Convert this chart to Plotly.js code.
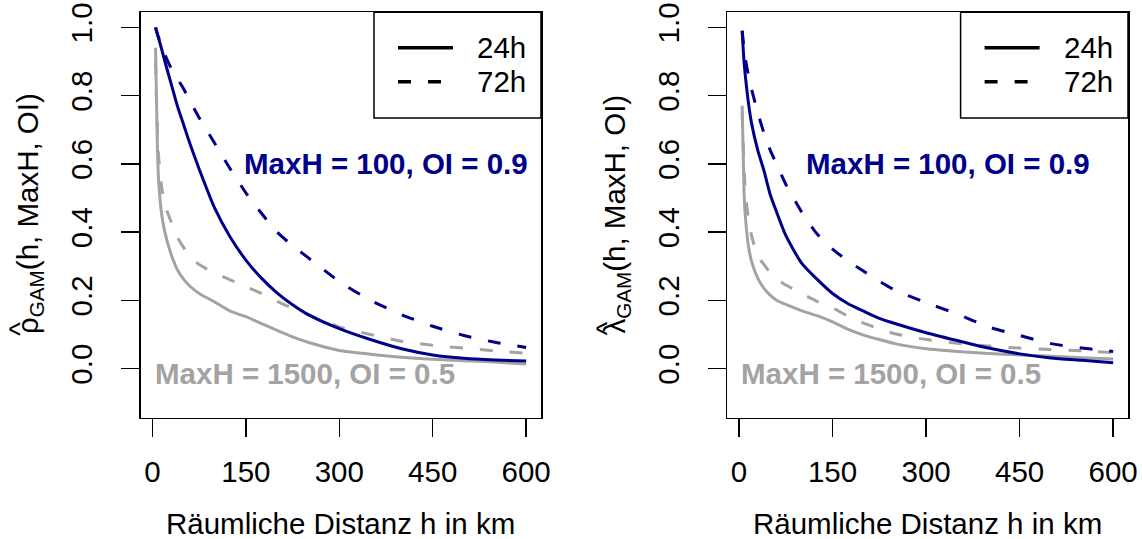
<!DOCTYPE html>
<html>
<head>
<meta charset="utf-8">
<script src="https://cdn.plot.ly/plotly-3.0.1.min.js"></script>
<style>html,body{margin:0;padding:0;background:#fff;}#chart{width:1142px;height:539px;}</style>
</head>
<body>
<div id="chart"></div>
<script>
// ---- data ----
const distanceKm = [5, 8, 10, 15, 20, 30, 40, 50, 60, 75, 100, 125, 150, 175, 200, 225, 250, 300, 350, 400, 450, 500, 550, 600];

// left panel: rho_GAM
const rhoMaxH100_24h = [1.0, 0.98, 0.967, 0.935, 0.90, 0.835, 0.77, 0.715, 0.66, 0.585, 0.47, 0.385, 0.318, 0.265, 0.222, 0.187, 0.158, 0.117, 0.085, 0.058, 0.040, 0.030, 0.025, 0.022];
const rhoMaxH100_72h = [1.0, 0.98, 0.97, 0.945, 0.92, 0.88, 0.85, 0.82, 0.785, 0.735, 0.66, 0.585, 0.515, 0.455, 0.40, 0.36, 0.325, 0.255, 0.20, 0.158, 0.124, 0.097, 0.077, 0.062];
const rhoMaxH1500_24h = [0.94, 0.65, 0.55, 0.45, 0.40, 0.335, 0.29, 0.262, 0.242, 0.22, 0.195, 0.168, 0.152, 0.132, 0.112, 0.093, 0.077, 0.053, 0.042, 0.033, 0.027, 0.023, 0.019, 0.013];
const rhoMaxH1500_72h = [0.90, 0.70, 0.62, 0.53, 0.48, 0.43, 0.385, 0.355, 0.33, 0.305, 0.28, 0.26, 0.24, 0.22, 0.197, 0.177, 0.158, 0.122, 0.10, 0.08, 0.068, 0.06, 0.052, 0.045];

// right panel: lambda_GAM
const lamMaxH100_24h = [0.99, 0.90, 0.86, 0.78, 0.72, 0.64, 0.58, 0.51, 0.46, 0.39, 0.31, 0.262, 0.22, 0.19, 0.168, 0.147, 0.132, 0.105, 0.082, 0.06, 0.043, 0.031, 0.024, 0.017];
const lamMaxH100_72h = [0.99, 0.94, 0.91, 0.86, 0.82, 0.75, 0.69, 0.64, 0.60, 0.54, 0.46, 0.395, 0.35, 0.315, 0.285, 0.256, 0.23, 0.193, 0.16, 0.122, 0.097, 0.073, 0.06, 0.05];
const lamMaxH1500_24h = [0.77, 0.52, 0.45, 0.36, 0.315, 0.265, 0.235, 0.215, 0.20, 0.188, 0.17, 0.155, 0.137, 0.115, 0.098, 0.085, 0.073, 0.058, 0.05, 0.044, 0.04, 0.036, 0.032, 0.028];
const lamMaxH1500_72h = [0.75, 0.60, 0.52, 0.44, 0.39, 0.33, 0.305, 0.28, 0.262, 0.245, 0.22, 0.197, 0.178, 0.153, 0.133, 0.116, 0.102, 0.085, 0.074, 0.066, 0.06, 0.056, 0.052, 0.047];

const xTicks = [0, 150, 300, 450, 600];
const yTicks = [0, 0.2, 0.4, 0.6, 0.8, 1.0];
const legendLabels = ['24h', '72h'];
const xTitle = 'Räumliche Distanz h in km';
const yTitleLeft = 'ρ<sub>GAM</sub>(h, MaxH, OI)';
const yTitleRight = 'λ<sub>GAM</sub>(h, MaxH, OI)';
const hatSymbol = '^';
const labelBlue = 'MaxH = 100, OI = 0.9';
const labelGray = 'MaxH = 1500, OI = 0.5';

// ---- styling ----
const BLUE = '#00008B';
const GRAY = '#A3A3A3';
const FONT = 'Liberation Sans, Arial, Helvetica, sans-serif';
const FS = 29.5;
const W = 1142, H = 539;
const px = v => v / W;
const py = v => 1 - v / H;
const DASH = '13px,17px';

function tr(y, xa, ya, color, dash) {
  return {x: distanceKm, y: y, xaxis: xa, yaxis: ya, type: 'scatter', mode: 'lines',
    line: {color: color, width: 3, dash: dash, shape: 'spline', smoothing: 0.6}, hoverinfo: 'skip', showlegend: false};
}

const data = [
  tr(rhoMaxH1500_72h, 'x', 'y', GRAY, DASH),
  tr(rhoMaxH1500_24h, 'x', 'y', GRAY, 'solid'),
  tr(rhoMaxH100_72h, 'x', 'y', BLUE, DASH),
  tr(rhoMaxH100_24h, 'x', 'y', BLUE, 'solid'),
  tr(lamMaxH1500_72h, 'x2', 'y2', GRAY, DASH),
  tr(lamMaxH1500_24h, 'x2', 'y2', GRAY, 'solid'),
  tr(lamMaxH100_72h, 'x2', 'y2', BLUE, DASH),
  tr(lamMaxH100_24h, 'x2', 'y2', BLUE, 'solid')
];

function xax(domain, anchor) {
  return {domain: domain, anchor: anchor, range: [-18.8, 623.8], tickvals: xTicks, ticktext: xTicks.map(String),
    ticks: 'outside', ticklen: 18, tickwidth: 1.5, tickcolor: '#000', showline: true, mirror: true,
    linecolor: '#000', linewidth: 1.5, showgrid: false, zeroline: false, ticklabelstandoff: 9,
    tickfont: {family: FONT, size: FS, color: '#000'}};
}
function yax(anchor) {
  return {domain: [1 - 417.7 / H, 1 - 12.3 / H], anchor: anchor, range: [-0.144, 1.044], tickvals: yTicks,
    tickformat: '.1f', tickangle: -90, ticks: 'outside', ticklen: 18, tickwidth: 1.5, tickcolor: '#000',
    showline: true, mirror: true, linecolor: '#000', linewidth: 1.5, showgrid: false, zeroline: false,
    ticklabelstandoff: 17, tickfont: {family: FONT, size: FS, color: '#000'}};
}

const panels = [{l: 140.7, r: 541}, {l: 727.3, r: 1128}];
const shapes = [];
const annotations = [];
panels.forEach((p, i) => {
  const off = p.l - 140.7;
  // legend box
  shapes.push({type: 'rect', xref: 'paper', yref: 'paper', x0: px(374 + off), x1: px(p.r), y0: py(118), y1: py(12.3),
    line: {color: '#000', width: 1.5}, fillcolor: 'rgba(0,0,0,0)'});
  shapes.push({type: 'line', xref: 'paper', yref: 'paper', x0: px(398 + off), x1: px(453 + off), y0: py(47.7), y1: py(47.7),
    line: {color: '#000', width: 3.5}});
  shapes.push({type: 'line', xref: 'paper', yref: 'paper', x0: px(398 + off), x1: px(453 + off), y0: py(81.7), y1: py(81.7),
    line: {color: '#000', width: 3.5, dash: DASH}});
  legendLabels.forEach((t, k) => {
    annotations.push({xref: 'paper', yref: 'paper', x: px(475 + off), y: py(k === 0 ? 47.5 : 81.5), xanchor: 'left', yanchor: 'middle',
      text: t, showarrow: false, font: {family: FONT, size: FS, color: '#000'}});
  });
  // x title
  annotations.push({xref: 'paper', yref: 'paper', x: px((p.l + p.r) / 2), y: py(523), xanchor: 'center', yanchor: 'middle',
    text: xTitle, showarrow: false, font: {family: FONT, size: FS, color: '#000'}});
  // y title
  annotations.push({xref: 'paper', yref: 'paper', x: px(29 + off), y: py(214), xanchor: 'center', yanchor: 'middle',
    textangle: -90, text: i === 0 ? yTitleLeft : yTitleRight, showarrow: false, font: {family: FONT, size: FS, color: '#000'}});
  // hat over rho / lambda
  annotations.push({xref: 'paper', yref: 'paper', x: px(19 + off), y: py(329), xanchor: 'center', yanchor: 'middle',
    textangle: -90, text: hatSymbol, showarrow: false, font: {family: FONT, size: FS, color: '#000'}});
});
// in-plot labels
annotations.push({xref: 'x', yref: 'y', x: 375, y: 0.602, text: '<b>' + labelBlue + '</b>', showarrow: false,
  font: {family: FONT, size: FS, color: BLUE}});
annotations.push({xref: 'x', yref: 'y', x: 245, y: -0.015, text: '<b>' + labelGray + '</b>', showarrow: false,
  font: {family: FONT, size: FS, color: GRAY}});
annotations.push({xref: 'x2', yref: 'y2', x: 335, y: 0.602, text: '<b>' + labelBlue + '</b>', showarrow: false,
  font: {family: FONT, size: FS, color: BLUE}});
annotations.push({xref: 'x2', yref: 'y2', x: 243, y: -0.015, text: '<b>' + labelGray + '</b>', showarrow: false,
  font: {family: FONT, size: FS, color: GRAY}});

const layout = {
  width: W, height: H, autosize: false,
  margin: {l: 0, r: 0, t: 0, b: 0, pad: 0},
  paper_bgcolor: '#fff', plot_bgcolor: '#fff',
  showlegend: false,
  font: {family: FONT, size: FS, color: '#000'},
  xaxis: xax([140.7 / W, 541 / W], 'y'),
  yaxis: yax('x'),
  xaxis2: xax([727.3 / W, 1128 / W], 'y2'),
  yaxis2: yax('x2'),
  shapes: shapes,
  annotations: annotations
};

Plotly.newPlot('chart', data, layout, {staticPlot: true, displayModeBar: false});
</script>
</body>
</html>
